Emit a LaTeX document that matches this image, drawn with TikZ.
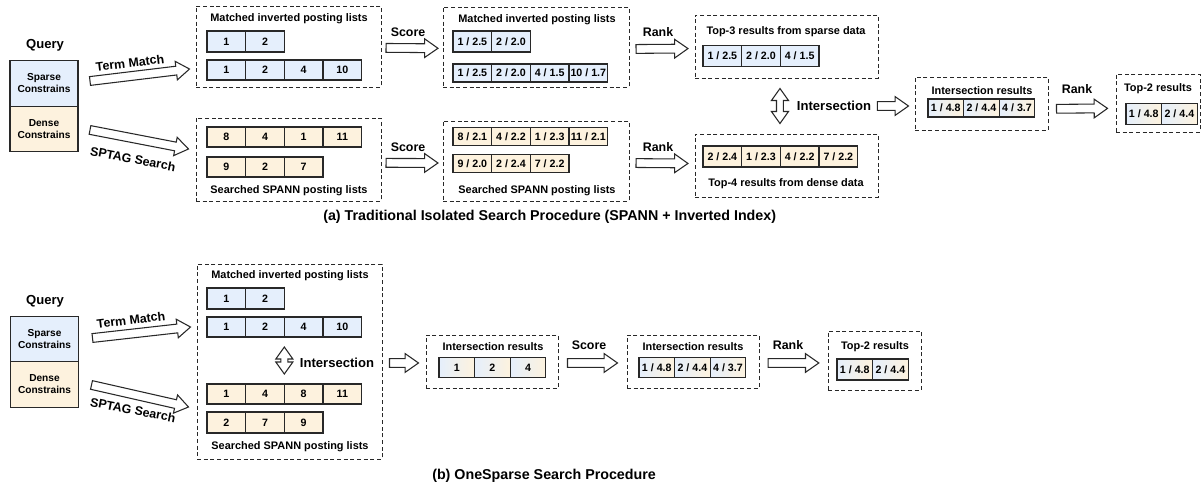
\documentclass[tikz,border=0pt]{standalone}
\usepackage{fontspec}
\setmainfont{Liberation Sans}
\usepackage{tikz}
\usetikzlibrary{positioning,calc,fit}
\usepackage{xcolor}
\definecolor{spblue}{RGB}{229,239,252}
\definecolor{dnorange}{RGB}{253,242,222}
\definecolor{lineblack}{RGB}{40,40,40}
\newcommand{\cellfont}{\fontsize{8}{9}\selectfont\bfseries}
\newcommand{\titlefont}{\fontsize{8.2}{9.5}\selectfont\bfseries}
\newcommand{\qfont}{\fontsize{7.6}{9}\selectfont\bfseries}
\newcommand{\stepfont}{\fontsize{9.3}{11}\selectfont\bfseries}
\newcommand{\bigfont}{\fontsize{9.8}{12}\selectfont\bfseries}
\newcommand{\capfont}{\fontsize{10.7}{13}\selectfont\bfseries}
\tikzstyle{cell} = [rectangle, draw=lineblack, line width=0.8pt, outer sep=0pt, inner sep=0pt, minimum width=29pt, minimum height=15pt, font=\cellfont]
\tikzstyle{narrow} = [minimum width=26.7pt]
\tikzstyle{tall} = [minimum height=15.75pt]
\tikzstyle{short} = [minimum height=13.5pt]
\tikzstyle{spcell} = [cell, fill=spblue]
\tikzstyle{dncell} = [cell, fill=dnorange]
\tikzstyle{mixcell} = [cell, left color=spblue, right color=dnorange]
\tikzstyle{group} = [rectangle, draw=lineblack, line width=0.75pt, dash pattern=on 3pt off 2pt, inner sep=0pt]
\tikzstyle{title} = [font=\titlefont, inner sep=0pt]
\tikzstyle{steplabel} = [font=\stepfont, inner sep=0pt]
\tikzstyle{biglabel} = [font=\bigfont, inner sep=0pt]
\tikzstyle{qbox} = [rectangle, draw=lineblack, line width=0.8pt, outer sep=0pt, minimum width=51pt, minimum height=34.1pt, align=center, font=\qfont]
\tikzset{
  bgap/.store in=\bgap, bgap=3pt,
  blockarrow/.style={draw=lineblack, fill=white, line width=0.8pt, line join=miter,
    to path={let \p1=($(\tikztostart)!\bgap!(\tikztotarget)$),
      \p2=($(\tikztotarget)!\bgap!(\tikztostart)$),
      \p3=($(\p2)!10pt!(\p1)$) in
      ($(\p1)!3.3pt!-90:(\p2)$) -- ($(\p3)!3.3pt!-90:(\p2)$) -- ($(\p3)!7pt!-90:(\p2)$)
      -- (\p2) -- ($(\p3)!7pt!90:(\p2)$) -- ($(\p3)!3.3pt!90:(\p2)$)
      -- ($(\p1)!3.3pt!90:(\p2)$) -- cycle}},
  dblockarrow/.style={draw=lineblack, fill=white, line width=0.8pt, line join=miter,
    to path={let \p1=($(\tikztostart)!\bgap!(\tikztotarget)$),
      \p2=($(\tikztotarget)!\bgap!(\tikztostart)$),
      \p3=($(\p2)!9pt!(\p1)$), \p4=($(\p1)!9pt!(\p2)$) in
      (\p1) -- ($(\p4)!6.4pt!-90:(\p2)$) -- ($(\p4)!2.6pt!-90:(\p2)$)
      -- ($(\p3)!2.6pt!-90:(\p2)$) -- ($(\p3)!6.4pt!-90:(\p2)$) -- (\p2)
      -- ($(\p3)!6.4pt!90:(\p2)$) -- ($(\p3)!2.6pt!90:(\p2)$)
      -- ($(\p4)!2.6pt!90:(\p2)$) -- ($(\p4)!6.4pt!90:(\p2)$) -- cycle}}
}

\begin{document}
\begin{tikzpicture}[x=0.75pt, y=-0.75pt]
\useasboundingbox (0,0) rectangle (1203,486);

% (a) Query
\node (qa) [biglabel] at (45,45) {Query};
\node (spa) [qbox, fill=spblue] at (44,83.5) {Sparse\\Constrains};
\node (dna) [qbox, fill=dnorange, below=0pt of spa] {Dense\\Constrains};

% (a) Posting lists
\node (mla) [group, fit={(196,6) (381,87)}] {};
\node (tma) [title] at (289,19) {Matched inverted posting lists};
\node (a11) [spcell, tall, anchor=west] at (207,41.5) {1};
\node (a12) [spcell, tall, right=0pt of a11] {2};
\node (a21) [spcell, anchor=west] at (207,70) {1};
\node (a22) [spcell, right=0pt of a21] {2};
\node (a23) [spcell, right=0pt of a22] {4};
\node (a24) [spcell, right=0pt of a23] {10};

\node (sla) [group, fit={(196,118) (381,201)}] {};
\node (a31) [dncell, anchor=west] at (207,137) {8};
\node (a32) [dncell, right=0pt of a31] {4};
\node (a33) [dncell, right=0pt of a32] {1};
\node (a34) [dncell, right=0pt of a33] {11};
\node (a41) [dncell, anchor=west] at (207,167) {9};
\node (a42) [dncell, right=0pt of a41] {2};
\node (a43) [dncell, right=0pt of a42] {7};
\node (tsa) [title] at (289,191) {Searched SPANN posting lists};

% (a) Scored lists
\node (msa) [group, fit={(443,7) (629,87)}] {};
\node (tmb) [title] at (537,20) {Matched inverted posting lists};
\node (b11) [spcell, tall, anchor=west] at (453,41.5) {1 / 2.5};
\node (b12) [spcell, tall, right=0pt of b11] {2 / 2.0};
\node (b21) [spcell, short, anchor=west] at (453,73) {1 / 2.5};
\node (b22) [spcell, short, right=0pt of b21] {2 / 2.0};
\node (b23) [spcell, short, right=0pt of b22] {4 / 1.5};
\node (b24) [spcell, short, right=0pt of b23] {10 / 1.7};

\node (ssa) [group, fit={(443,121) (629,201)}] {};
\node (b31) [dncell, short, anchor=west] at (453,136.5) {8 / 2.1};
\node (b32) [dncell, short, right=0pt of b31] {4 / 2.2};
\node (b33) [dncell, short, right=0pt of b32] {1 / 2.3};
\node (b34) [dncell, short, right=0pt of b33] {11 / 2.1};
\node (b41) [dncell, short, anchor=west] at (453,163.5) {9 / 2.0};
\node (b42) [dncell, short, right=0pt of b41] {2 / 2.4};
\node (b43) [dncell, short, right=0pt of b42] {7 / 2.2};
\node (tsb) [title] at (537,191) {Searched SPANN posting lists};

% (a) Top results
\node (tsp) [group, fit={(695,15) (878,78)}] {};
\node (ttsp) [title] at (786,32) {Top-3 results from sparse data};
\node (c11) [spcell, tall, anchor=west] at (703,56) {1 / 2.5};
\node (c12) [spcell, tall, right=0pt of c11] {2 / 2.0};
\node (c13) [spcell, tall, right=0pt of c12] {4 / 1.5};

\node (tdn) [group, fit={(695,134) (878,197)}] {};
\node (c21) [dncell, tall, anchor=west] at (703,156.5) {2 / 2.4};
\node (c22) [dncell, tall, right=0pt of c21] {1 / 2.3};
\node (c23) [dncell, tall, right=0pt of c22] {4 / 2.2};
\node (c24) [dncell, tall, right=0pt of c23] {7 / 2.2};
\node (ttdn) [title] at (786,184) {Top-4 results from dense data};

\node (isa) [biglabel] at (834,106) {Intersection};

\node (ira) [group, fit={(915,77) (1048,130)}] {};
\node (tira) [title] at (982,91) {Intersection results};
\node (d1) [mixcell, narrow, short, anchor=west] at (928,108) {1 / 4.8};
\node (d2) [mixcell, narrow, short, right=0pt of d1] {2 / 4.4};
\node (d3) [mixcell, narrow, short, right=0pt of d2] {4 / 3.7};

\node (t2a) [group, fit={(1116,74) (1200,132)}] {};
\node (tt2a) [title] at (1158,89) {Top-2 results};
\node (e1) [mixcell, narrow, tall, anchor=west] at (1126,114) {1 / 4.8};
\node (e2) [mixcell, narrow, tall, right=0pt of e1] {2 / 4.4};

% (a) Steps
\node (tmla) [steplabel, rotate=7] at (130,63) {Term Match};
\node (spla) [steplabel, rotate=-11] at (133,159) {SPTAG Search};
\node (sca1) [steplabel] at (408,32) {Score};
\node (sca2) [steplabel] at (408,147) {Score};
\node (rka1) [steplabel] at (658,32) {Rank};
\node (rka2) [steplabel] at (658,147) {Rank};
\node (rka3) [steplabel] at (1077,89) {Rank};

\draw[blockarrow, bgap=0pt] ($(spa.east)+(12,-2.5)$) to ($(mla.west)+(-6,22.5)$);
\draw[blockarrow, bgap=0pt] ($(dna.east)+(12,1)$) to ($(sla.west)+(-7,-10.5)$);
\draw[blockarrow, bgap=3.4pt] ([yshift=-1pt]mla.east) to ([yshift=-1pt]msa.west);
\draw[blockarrow, bgap=3.4pt] ([yshift=-2.5pt]sla.east) to ([yshift=-1.5pt]ssa.west);
\draw[blockarrow, bgap=4.9pt] ([yshift=-1.5pt]msa.east) to ([yshift=-1.5pt]tsp.west);
\draw[blockarrow, bgap=4.9pt] ([yshift=-1.5pt]ssa.east) to ([yshift=1.5pt]tdn.west);
\draw[dblockarrow, bgap=7.5pt] ([xshift=-4.9pt]tsp.south) to ([xshift=-4.9pt]tdn.north);
\draw[blockarrow, bgap=4.5pt] (isa.east) to (isa.east -| ira.west);
\draw[blockarrow, bgap=6pt] ([yshift=-4pt]ira.east) to ([yshift=-4pt]t2a.west);

\node (capa) [anchor=west, font=\capfont, inner sep=0pt] at (323,217) {(a) Traditional Isolated Search Procedure (SPANN + Inverted Index)};

% (b) Query
\node (qb) [biglabel] at (45,301) {Query};
\node (spb) [qbox, fill=spblue] at (44.5,339) {Sparse\\Constrains};
\node (dnb) [qbox, fill=dnorange, below=0pt of spb] {Dense\\Constrains};

% (b) Posting lists with intersection
\node (mlb) [group, fit={(197,264) (382,459)}] {};
\node (tmc) [title] at (290,276) {Matched inverted posting lists};
\node (f11) [spcell, tall, anchor=west] at (207,298.5) {1};
\node (f12) [spcell, tall, right=0pt of f11] {2};
\node (f21) [spcell, anchor=west] at (207,327) {1};
\node (f22) [spcell, right=0pt of f21] {2};
\node (f23) [spcell, right=0pt of f22] {4};
\node (f24) [spcell, right=0pt of f23] {10};
\node (f31) [dncell, anchor=west] at (207,394) {1};
\node (f32) [dncell, right=0pt of f31] {4};
\node (f33) [dncell, right=0pt of f32] {8};
\node (f34) [dncell, right=0pt of f33] {11};
\node (f41) [dncell, tall, anchor=west] at (207,422.5) {2};
\node (f42) [dncell, tall, right=0pt of f41] {7};
\node (f43) [dncell, tall, right=0pt of f42] {9};
\node (tsc) [title] at (290,447) {Searched SPANN posting lists};
\node (isb) [biglabel] at (337,363) {Intersection};

% (b) Results
\node (irb) [group, fit={(426,335) (558,388)}] {};
\node (tirb) [title] at (493,347) {Intersection results};
\node (g1) [mixcell, narrow, anchor=west] at (439,367.5) {1};
\node (g2) [mixcell, narrow, right=0pt of g1] {2};
\node (g3) [mixcell, narrow, right=0pt of g2] {4};

\node (scb) [group, fit={(627,335) (759,388)}] {};
\node (tscb) [title] at (693,347) {Intersection results};
\node (h1) [mixcell, narrow, anchor=west] at (639,367.5) {1 / 4.8};
\node (h2) [mixcell, narrow, right=0pt of h1] {2 / 4.4};
\node (h3) [mixcell, narrow, right=0pt of h2] {4 / 3.7};

\node (t2b) [group, fit={(828,331) (921,390)}] {};
\node (tt2b) [title] at (875,347) {Top-2 results};
\node (k1) [mixcell, narrow, tall, anchor=west] at (837,369.5) {1 / 4.8};
\node (k2) [mixcell, narrow, tall, right=0pt of k1] {2 / 4.4};

% (b) Steps
\node (tmlb) [steplabel, rotate=7] at (131,320) {Term Match};
\node (splb) [steplabel, rotate=-11] at (133,410) {SPTAG Search};
\node (scb1) [steplabel] at (589,345) {Score};
\node (rkb1) [steplabel] at (788,345) {Rank};

\draw[blockarrow, bgap=0pt] ($(spb.east)+(14,-1)$) to ($(mlb.west)+(-6,-34.5)$);
\draw[blockarrow, bgap=0pt] ($(dnb.east)+(13,0.5)$) to ($(mlb.west)+(-8,45.5)$);
\draw[dblockarrow, bgap=7.5pt] (f22.south east) to (f32.north east);
\draw[blockarrow, bgap=5.25pt] ([yshift=-1.1pt]mlb.east) to ([yshift=-1.1pt]irb.west);
\draw[blockarrow, bgap=6.75pt] ([yshift=-1.1pt]irb.east) to ([yshift=-1.1pt]scb.west);
\draw[blockarrow, bgap=6.5pt] ([yshift=-1.1pt]scb.east) to ([yshift=-1.1pt]scb.east -| t2b.west);

\node (capb) [anchor=west, font=\capfont, inner sep=0pt] at (432,476) {(b) OneSparse Search Procedure};
\end{tikzpicture}
\end{document}
